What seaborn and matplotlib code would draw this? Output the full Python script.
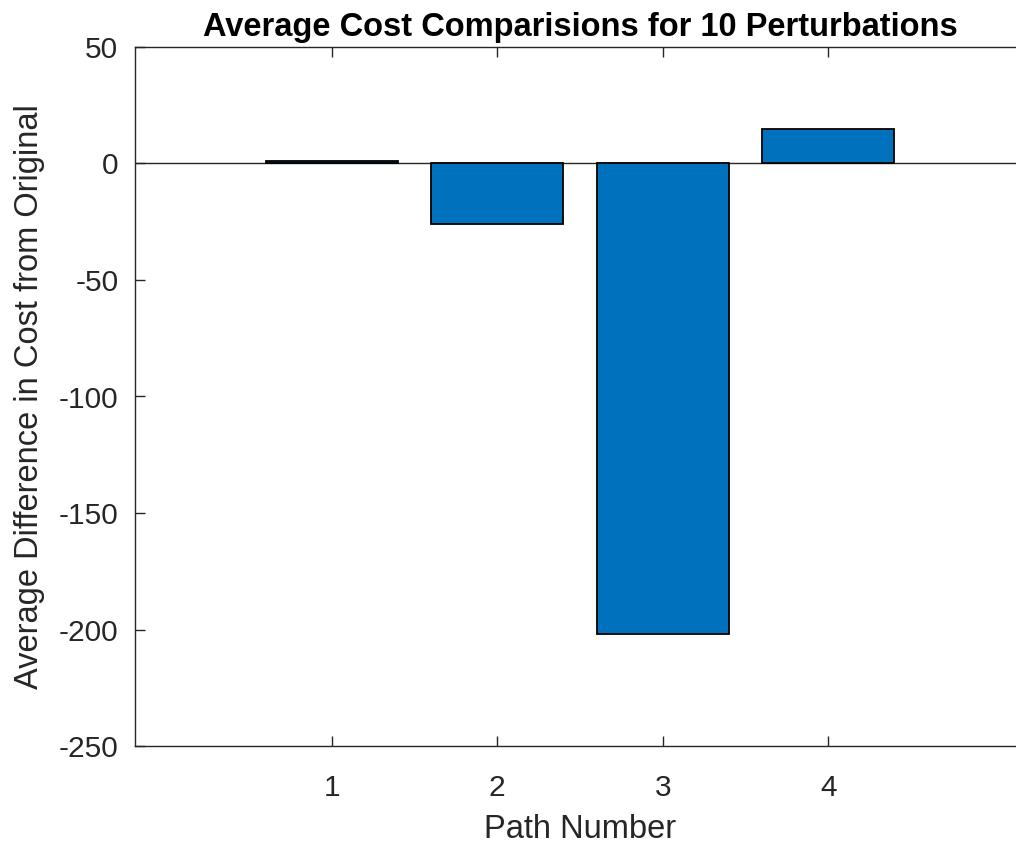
import pandas as pd
import seaborn as sns
import matplotlib.pyplot as plt
import numpy as np

paths = [1, 2, 3, 4]
avg_diff = [1.0, -26.0, -202.0, 14.8]

data = pd.DataFrame({"path": paths, "diff": avg_diff})

sns.set_style("ticks")
plt.rcParams["font.family"] = ["Liberation Sans", "DejaVu Sans"]
plt.rcParams["axes.unicode_minus"] = False

W, H = 1016, 846
fig = plt.figure(figsize=(W / 100, H / 100), dpi=100)
# axes box in pixels: left 135, top 47, bottom 746; right edge runs past the canvas
ax = fig.add_axes([135 / W, (H - 746) / H, 890 / W, (746 - 47) / H])

sns.barplot(data=data, x="path", y="diff", native_scale=True, color="#0072BD",
            saturation=1, edgecolor="black", linewidth=1.3, width=0.8, ax=ax)
ax.axhline(0, color="#262626", linewidth=1.0, zorder=0.5)

ax.set_xlim(-0.19, 5.19)
ax.set_ylim(-250, 50)
ax.set_xticks(paths)
ax.set_xticklabels([str(p) for p in paths])
ax.set_yticks(np.arange(-250, 51, 50))

for s in ["top", "bottom", "left", "right"]:
    ax.spines[s].set_color("#262626")
    ax.spines[s].set_linewidth(1.0)
ax.tick_params(direction="in", length=7, width=1.0, colors="#262626",
               labelcolor="#262626", labelsize=21.5, top=True, right=False)
ax.tick_params(axis="x", pad=20)
ax.tick_params(axis="y", pad=12)

ax.set_xlabel("Path Number", fontsize=23.5, color="#262626", labelpad=9)
ax.set_ylabel("Average Difference in Cost from Original", fontsize=23.5,
              color="#262626", labelpad=10)
ax.set_title("Average Cost Comparisions for 10 Perturbations", fontsize=23.5,
             fontweight="bold", color="black", pad=8)

fig.savefig("out.png", dpi=100)
